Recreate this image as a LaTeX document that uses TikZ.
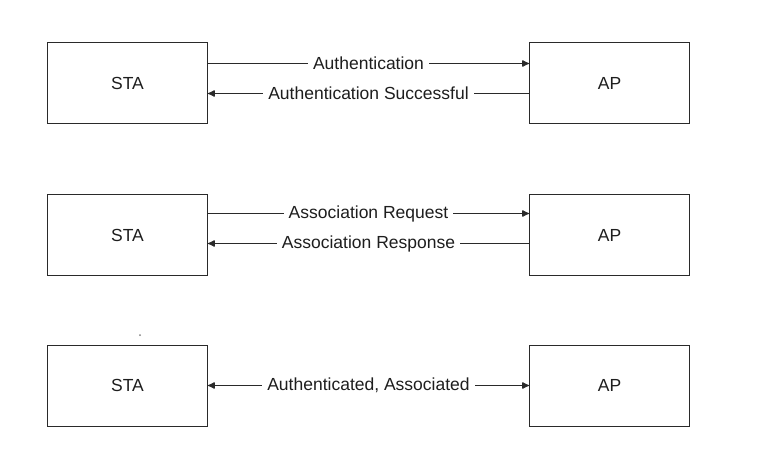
\documentclass[tikz,border=0pt]{standalone}
\usepackage{fontspec}
\setmainfont{Liberation Sans}
\usetikzlibrary{arrows.meta}
\definecolor{boxc}{HTML}{2A2A2A}
\definecolor{linec}{HTML}{2A2A2A}
\definecolor{txt}{HTML}{1E1E1E}
\begin{document}
\begin{tikzpicture}[x=1pt,y=-1pt,
  box/.style={draw=boxc, line width=1pt, minimum width=160pt, minimum height=81pt, inner sep=0pt, font=\fontsize{17.5}{20}\selectfont, text=txt},
  msg/.style={draw=linec, line width=1pt, -{Latex[length=8pt,width=7.5pt,round]}},
  bimsg/.style={draw=linec, line width=1pt, {Latex[length=8pt,width=7.5pt,round]}-{Latex[length=8pt,width=7.5pt,round]}},
  lab/.style={fill=white, inner xsep=5pt, inner ysep=1pt, text=txt, font=\fontsize{17.5}{20}\selectfont}]
\useasboundingbox (0,0) rectangle (758,476);
\node[box] (sta1) at (127.5,83) {STA};
\node[box] (ap1) at (609.5,83) {AP};
\node[box] (sta2) at (127.5,235) {STA};
\node[box] (ap2) at (609.5,235) {AP};
\node[box] (sta3) at (127.5,385.5) {STA};
\node[box] (ap3) at (609.5,385.5) {AP};
\fill[gray] (140,335) circle (1pt);
\draw[msg] ([yshift=19.5pt]sta1.east) -- node[lab]{Authentication} ([yshift=19.5pt]ap1.west);
\draw[msg] ([yshift=-10.5pt]ap1.west) -- node[lab]{Authentication Successful} ([yshift=-10.5pt]sta1.east);
\draw[msg] ([yshift=21.5pt]sta2.east) -- node[lab]{Association Request} ([yshift=21.5pt]ap2.west);
\draw[msg] ([yshift=-8.5pt]ap2.west) -- node[lab]{Association Response} ([yshift=-8.5pt]sta2.east);
\draw[bimsg] (sta3.east) -- node[lab]{Authenticated, Associated} (ap3.west);
\end{tikzpicture}
\end{document}
